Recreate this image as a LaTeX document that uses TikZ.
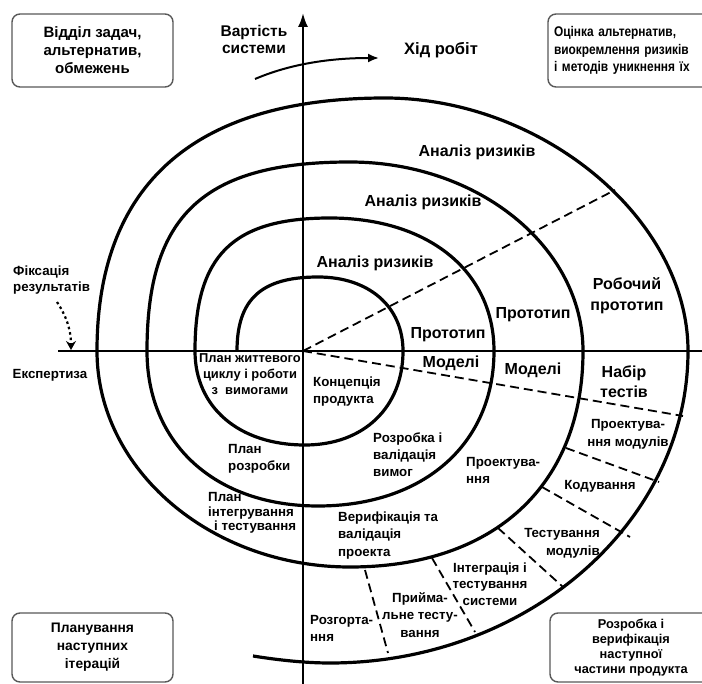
\documentclass[tikz,border=0pt]{standalone}
\usepackage{fontspec}
\setmainfont{Liberation Sans}
\newfontfamily\narrowf[FakeStretch=0.85]{Liberation Sans}
\usetikzlibrary{arrows.meta}
\begin{document}
\begin{tikzpicture}[x=1pt,y=-1pt,
  ring/.style={line width=3.2pt},
  axisline/.style={line width=2pt},
  sepline/.style={line width=1.8pt, dash pattern=on 9pt off 5pt},
  boxnode/.style={draw=black!65, line width=1.4pt, rounded corners=8pt, inner sep=0pt},
  lbig/.style={font=\bfseries\fontsize{16}{#1}\selectfont, align=center, inner sep=0pt},
  lbig/.default=20,
  sml/.style={font=\bfseries\fontsize{13.3}{#1}\selectfont, align=center, inner sep=0pt},
  sml/.default=17,
]
\clip (0,0) rectangle (702,684);
\fill[white] (0,0) rectangle (702,684);

% axes
\coordinate (O) at (303,351);
\coordinate (axL) at (58,351);
\coordinate (axR) at (702,351);
\coordinate (axB) at (303,684);
\coordinate (axT) at (303,13);
\draw[axisline] (axL) -- (axR);
\draw[line width=2.2pt, -{Latex[length=14pt,width=10pt]}] (axB) -- (axT);

% spiral
\draw[ring] (237,351)
 .. controls (237,299.2) and (261.3,277) .. (318,277)
 .. controls (369,277) and (403,306.6) .. (403,351)
 .. controls (403,407.4) and (363.8,445) .. (305,445)
 .. controls (239,445) and (195,407.4) .. (195,351)
 .. controls (195,255.2) and (232.8,218) .. (330,218)
 .. controls (428.4,218) and (494,271.2) .. (494,351)
 .. controls (494,444) and (423.6,506) .. (318,506)
 .. controls (215.4,506) and (147,444) .. (147,351)
 .. controls (147,214.9) and (203.8,162) .. (350,162)
 .. controls (478.2,162) and (583,247) .. (583,351)
 .. controls (583,484.9) and (494.5,567) .. (350,567)
 .. controls (210.9,567) and (97,469.8) .. (97,351)
 .. controls (97,184) and (194.9,98) .. (385,98)
 .. controls (542.6,98) and (688,219.4) .. (688,351)
 .. controls (688,522.6) and (526.9,663) .. (330,663)
 .. controls (305,663) and (278,660) .. (253,656);

% dashed separators
\coordinate (dU) at (615,190);
\coordinate (dR) at (683,416);
\draw[sepline] (O) -- (dU);
\draw[sepline] (O) -- (dR);
\coordinate (a1) at (566,448); \coordinate (a2) at (659,482);
\coordinate (b1) at (542,487); \coordinate (b2) at (630,537);
\coordinate (c1) at (498,528); \coordinate (c2) at (563,587);
\coordinate (d1) at (432,558); \coordinate (d2) at (475,632);
\coordinate (e1) at (365,570); \coordinate (e2) at (388,653);
\draw[sepline] (a1) -- (a2);
\draw[sepline] (b1) -- (b2);
\draw[sepline] (c1) -- (c2);
\draw[sepline] (d1) -- (d2);
\draw[sepline] (e1) -- (e2);

% progress arrow
\coordinate (hA) at (255,79);
\coordinate (hB) at (379,58);
\draw[line width=2pt, -{Latex[length=11pt,width=9pt]}] (hA) .. controls (290,64) and (330,58) .. (hB);

% dotted arrow
\coordinate (fA) at (57,302);
\coordinate (fB) at (71,350);
\draw[line width=2.2pt, dash pattern=on 2.5pt off 3pt, -{Stealth[length=9pt,width=10pt,inset=3pt]}] (fA) .. controls (65,314) and (71,328) .. (fB);

% boxes
\node[boxnode, minimum width=161pt, minimum height=73pt, align=center,
      font=\bfseries\fontsize{15}{18}\selectfont] (tl) at (92.5,50.5)
      {Відділ задач,\\альтернатив,\\обмежень};
\node[boxnode, minimum width=164pt, minimum height=73pt, text width=152pt, align=left,
      font=\narrowf\bfseries\fontsize{14}{17.5}\selectfont] (tr) at (630,50.5)
      {Оцінка альтернатив,\\виокремлення ризиків\\і методів уникнення їх};
\node[boxnode, minimum width=161pt, minimum height=69pt, align=center,
      font=\bfseries\fontsize{13.8}{18}\selectfont] (bl) at (92.5,647.5)
      {Планування\\наступних\\ітерацій};
\node[boxnode, minimum width=162pt, minimum height=69pt, align=center,
      font=\bfseries\fontsize{12.8}{15}\selectfont] (br) at (631,647.5)
      {Розробка і\\верифікація\\наступної\\частини продукта};

% labels
\node[lbig=17, font=\bfseries\fontsize{15.5}{17}\selectfont] (vart) at (254,39) {Вартість\\системи};
\node[lbig, font=\bfseries\fontsize{16.5}{20}\selectfont] (hid) at (441,50) {Хід робіт};
\node[lbig] (ar3) at (477,152) {Аналіз ризиків};
\node[lbig] (ar2) at (423,202) {Аналіз ризиків};
\node[lbig] (ar1) at (375,263) {Аналіз ризиків};
\node[lbig=21] (rob) at (627,296) {Робочий\\прототип};
\node[lbig] (pr2) at (533,315) {Прототип};
\node[lbig] (pr1) at (448,335) {Прототип};
\node[lbig] (md1) at (451,363) {Моделі};
\node[lbig] (md2) at (533,370) {Моделі};
\node[lbig=20] (nab) at (624,382) {Набір\\тестів};
\node[sml=18] (prm) at (628,434) {Проектува-\\ння модулів};
\node[sml] (kod) at (600,486) {Кодування};
\node[sml=18, align=right, anchor=east] (tst) at (600,543) {Тестування\\модулів};
\node[sml=16.5] (intg) at (490,584) {Інтеграція і\\тестування\\системи};
\node[sml=17.5] (prij) at (420,615) {Прийма-\\льне тесту-\\вання};
\node[sml=17, align=left, anchor=west] (rozg) at (310,628.5) {Розгорта-\\ння};
\node[sml=17.5, align=left, anchor=west] (ver) at (338,535.5) {Верифікація та\\валідація\\проекта};
\node[sml=14.5, align=left, anchor=west] (pint) at (208,513) {План\\інтегрування\\\hspace*{6pt}і тестування};
\node[sml=17, align=left, anchor=west] (prozr) at (228,458.5) {План\\розробки};
\node[sml=17, align=left, anchor=west] (rozv) at (373,455) {Розробка і\\валідація\\вимог};
\node[sml=17, align=left, anchor=west] (proekt) at (466,470.5) {Проектува-\\ння};
\node[sml=17, align=left, anchor=west] (konc) at (313,391.5) {Концепція\\продукта};
\node[sml=16, font=\bfseries\fontsize{12.9}{16}\selectfont] (plan) at (250,374) {План життевого\\циклу і роботи\\з\ \ вимогами};
\node[sml=16, align=left, anchor=west] (fix) at (13,280) {Фіксація\\результатів};
\node[sml] (eksp) at (50,375) {Експертиза};
\end{tikzpicture}
\end{document}
